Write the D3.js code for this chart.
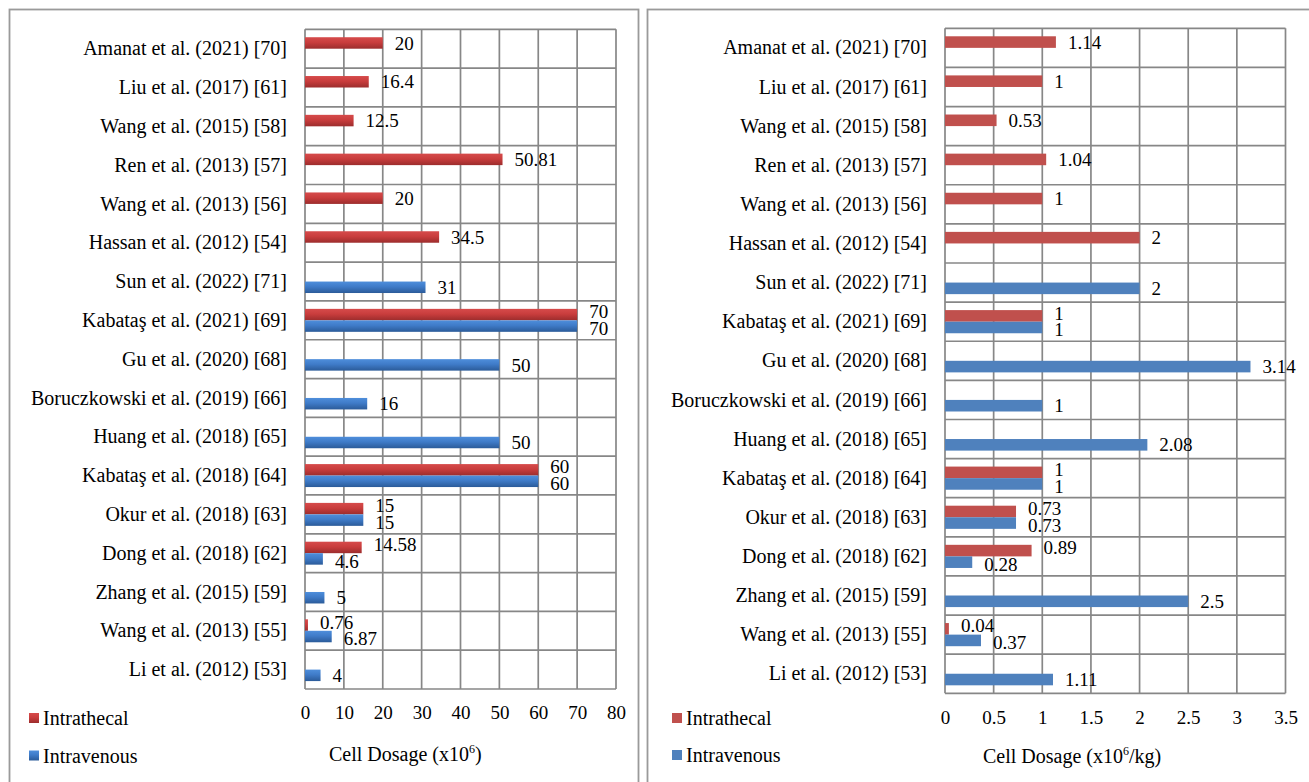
<!DOCTYPE html>
<html>
<head>
<meta charset="utf-8">
<script src="https://cdn.jsdelivr.net/npm/d3@7"></script>
<style>
  html, body { margin: 0; padding: 0; background: #fff; }
  svg { display: block; }
  text { font-family: "Liberation Serif", "Times New Roman", serif; fill: #000; }
</style>
</head>
<body>
<svg id="chart" width="1309" height="782"></svg>
<script>
// Studies, listed top to bottom
const studies = [
  "Amanat et al. (2021) [70]",
  "Liu et al. (2017) [61]",
  "Wang et al. (2015) [58]",
  "Ren et al. (2013) [57]",
  "Wang et al. (2013) [56]",
  "Hassan et al. (2012) [54]",
  "Sun et al. (2022) [71]",
  "Kabataş et al. (2021) [69]",
  "Gu et al. (2020) [68]",
  "Boruczkowski et al. (2019) [66]",
  "Huang et al. (2018) [65]",
  "Kabataş et al. (2018) [64]",
  "Okur et al. (2018) [63]",
  "Dong et al. (2018) [62]",
  "Zhang et al. (2015) [59]",
  "Wang et al. (2013) [55]",
  "Li et al. (2012) [53]"
];

// Total cell dosage (x10^6)
const intrathecalTotal = [20, 16.4, 12.5, 50.81, 20, 34.5, null, 70, null, null, null, 60, 15, 14.58, null, 0.76, null];
const intravenousTotal = [null, null, null, null, null, null, 31, 70, 50, 16, 50, 60, 15, 4.6, 5, 6.87, 4];

// Cell dosage per body weight (x10^6/kg)
const intrathecalPerKg = [1.14, 1, 0.53, 1.04, 1, 2, null, 1, null, null, null, 1, 0.73, 0.89, null, 0.04, null];
const intravenousPerKg = [null, null, null, null, null, null, 2, 1, 3.14, 1, 2.08, 1, 0.73, 0.28, 2.5, 0.37, 1.11];

const series = ["Intrathecal", "Intravenous"];
const totalTicks = [0, 10, 20, 30, 40, 50, 60, 70, 80];
const perKgTicks = [0, 0.5, 1, 1.5, 2, 2.5, 3, 3.5];

const svg = d3.select("#chart");
const defs = svg.append("defs");

function addGradient(id, stops) {
  const g = defs.append("linearGradient").attr("id", id)
    .attr("x1", 0).attr("y1", 0).attr("x2", 0).attr("y2", 1);
  stops.forEach(([o, c]) => g.append("stop").attr("offset", o).attr("stop-color", c));
}
addGradient("gradRed", [["0%", "#d64b4b"], ["45%", "#c93d3d"], ["100%", "#9c2d2d"]]);
addGradient("gradBlue", [["0%", "#4e8edb"], ["45%", "#3f7bc8"], ["100%", "#2b5b99"]]);

// Panel frames
svg.append("rect").attr("x", 9.5).attr("y", 9.5).attr("width", 629).attr("height", 800)
  .attr("fill", "none").attr("stroke", "#9a9a9a").attr("stroke-width", 1.8);
svg.append("rect").attr("x", 647.5).attr("y", 9.5).attr("width", 700).attr("height", 800)
  .attr("fill", "none").attr("stroke", "#9a9a9a").attr("stroke-width", 1.8);

function drawPanel(cfg) {
  const g = svg.append("g");
  const x = d3.scaleLinear().domain(cfg.domain).range([cfg.left, cfg.right]);
  const y = d3.scaleBand().domain(studies).range([cfg.top, cfg.bottom]);
  const sub = d3.scaleBand().domain(series).range([0, y.bandwidth()])
    .paddingInner(0).paddingOuter(0.69);

  // Grid: vertical lines at ticks, horizontal lines at band edges
  const grid = g.append("g").attr("stroke", "#878787").attr("stroke-width", 1.7);
  cfg.ticks.forEach(t => {
    grid.append("line").attr("x1", x(t)).attr("x2", x(t))
      .attr("y1", cfg.top).attr("y2", cfg.bottom);
  });
  d3.range(studies.length + 1).forEach(i => {
    const yy = cfg.top + i * y.step();
    grid.append("line").attr("x1", cfg.left).attr("x2", cfg.right)
      .attr("y1", yy).attr("y2", yy);
  });

  // Bars and value labels; when a study has both routes the two labels are spread apart a little
  const sets = [
    { name: "Intrathecal", values: cfg.it, other: cfg.iv, fill: cfg.red, spread: -3 },
    { name: "Intravenous", values: cfg.iv, other: cfg.it, fill: cfg.blue, spread: 2 }
  ];
  sets.forEach(s => {
    const rows = studies.map((st, i) => ({ st, v: s.values[i], paired: s.other[i] !== null }))
      .filter(d => d.v !== null);
    g.append("g").selectAll("rect").data(rows).join("rect")
      .attr("x", x(0))
      .attr("y", d => y(d.st) + sub(s.name))
      .attr("width", d => x(d.v) - x(0))
      .attr("height", sub.bandwidth())
      .attr("fill", s.fill);
    g.append("g").selectAll("text").data(rows).join("text")
      .attr("x", d => x(d.v) + 12)
      .attr("y", d => y(d.st) + sub(s.name) + sub.bandwidth() / 2 + (d.paired ? s.spread : 0))
      .attr("dy", "0.35em")
      .attr("font-size", 19)
      .text(d => d.v);
  });

  // Category labels
  g.append("g").selectAll("text").data(studies).join("text")
    .attr("x", cfg.left - 18)
    .attr("y", d => y(d) + y.bandwidth() / 2)
    .attr("dy", "0.33em")
    .attr("text-anchor", "end")
    .attr("font-size", 20)
    .text(d => d);

  // Value axis tick labels
  const axis = d3.axisBottom(x).tickValues(cfg.ticks).tickSize(0).tickPadding(0)
    .tickFormat(d => d);
  const ax = g.append("g").attr("transform", `translate(0,${cfg.tickY})`).call(axis);
  ax.select(".domain").remove();
  ax.selectAll("text").attr("font-size", 19).attr("font-family", "Liberation Serif")
    .attr("fill", "#000").attr("dy", "0.35em").attr("y", 0);

  // Axis title with superscript exponent
  const title = g.append("text").attr("x", cfg.titleX).attr("y", cfg.titleY).attr("font-size", 20);
  title.append("tspan").text("Cell Dosage (x10");
  title.append("tspan").attr("font-size", 12).attr("dy", -8).text("6");
  title.append("tspan").attr("dy", 8).text(cfg.titleTail);

  // Legend
  const legend = g.append("g");
  sets.forEach((s, i) => {
    const cy = cfg.legendY[i];
    legend.append("rect").attr("x", cfg.legendX).attr("y", cy - 5)
      .attr("width", 10).attr("height", 10).attr("fill", s.fill);
    legend.append("text").attr("x", cfg.legendX + 14).attr("y", cy)
      .attr("dy", "0.35em").attr("font-size", 20).text(s.name);
  });
}

drawPanel({
  domain: [0, 80], ticks: totalTicks,
  left: 305, right: 616, top: 29.3, bottom: 689,
  it: intrathecalTotal, iv: intravenousTotal,
  red: "url(#gradRed)", blue: "url(#gradBlue)",
  tickY: 712, titleX: 329, titleY: 761, titleTail: ")",
  legendX: 29, legendY: [718, 755.5]
});

drawPanel({
  domain: [0, 3.5], ticks: perKgTicks,
  left: 945, right: 1285.5, top: 28.3, bottom: 693.3,
  it: intrathecalPerKg, iv: intravenousPerKg,
  red: "#c0504d", blue: "#4f81bd",
  tickY: 717, titleX: 983, titleY: 763, titleTail: "/kg)",
  legendX: 672, legendY: [718, 755]
});
</script>
</body>
</html>
